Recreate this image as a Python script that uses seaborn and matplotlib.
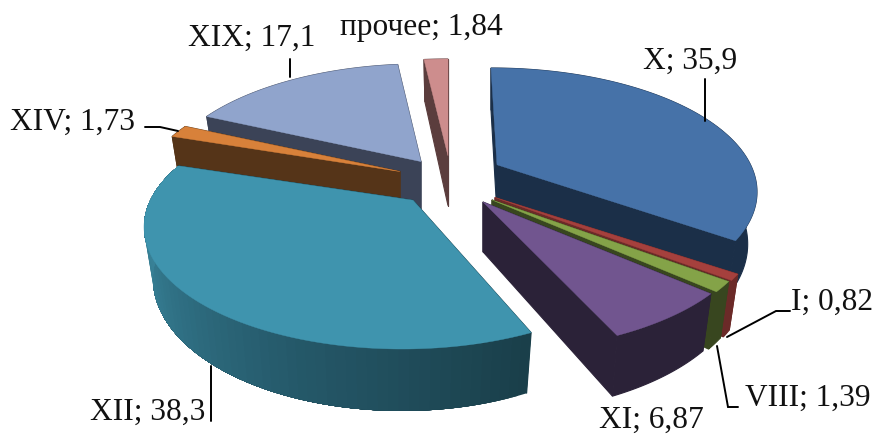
import numpy as np
import matplotlib
matplotlib.use("Agg")
import matplotlib.pyplot as plt
import seaborn as sns

# Shares by ICD class
categories = ["X", "I", "VIII", "XI", "XII", "XIV", "XIX", "прочее"]
shares = [35.9, 0.82, 1.39, 6.87, 38.3, 1.73, 17.1, 1.84]

# Colours of the upper faces and of the side walls
top_colors = ["#4672A8", "#A5403D", "#84A348", "#71558F",
              "#3F94AE", "#D8813A", "#90A4CC", "#CD8D8D"]
wall_colors = ["#1B2F48", "#6B2A28", "#38461F", "#2B2238",
               "#1A3F4A", "#553418", "#3B4357", "#5B3D3D"]

# Pixel-like placement of each exploded slice: ellipse centre, radii, apex shift
center_x = [491, 495, 492, 483, 402, 393, 421, 448]
center_y = [193, 226, 228, 230, 228, 200, 190, 184]
radius_x = [266, 264, 264, 268, 258, 255, 263, 270]
radius_y = [124, 125, 123, 123, 122, 125, 125, 124]
apex_shift = [6, 0, 0, 0, 11, 7, 0, 0]

# Back-to-front painting order
paint_order = [7, 6, 5, 4, 0, 1, 2, 3]

# Perspective squeeze of the circle, wall height and shrink of the lower rim
SQUEEZE = 0.8
DEPTH = 52
RIM_SHRINK_X = 0.965
RIM_GROW_Y = 10

sns.set_theme(style="white")
plt.rcParams["font.family"] = ["Liberation Serif", "DejaVu Serif"]

fig, ax = plt.subplots(figsize=(8.75, 4.35), dpi=100)
ax.set_position([0, 0, 1, 1])
ax.set_xlim(0, 875)
ax.set_ylim(435, 0)
ax.axis("off")


def warp(theta):
    """Clockwise-from-top angle (radians) after perspective foreshortening."""
    half = np.asarray(theta) / 2
    return 2 * np.arctan2(SQUEEZE * np.sin(half), np.cos(half))


def rim(i, theta, lower=False):
    t = warp(theta)
    rx, ry = radius_x[i], radius_y[i]
    dy = 0
    if lower:
        rx, ry, dy = rx * RIM_SHRINK_X, ry + RIM_GROW_Y, DEPTH
    return center_x[i] + rx * np.sin(t), center_y[i] + dy - ry * np.cos(t)


def apex(i, lower=False):
    lift = (1 - SQUEEZE ** 2) / (1 + SQUEEZE ** 2)
    ry, dy = (radius_y[i] + RIM_GROW_Y, DEPTH) if lower else (radius_y[i], 0)
    return center_x[i] + apex_shift[i], center_y[i] + dy - ry * lift


edges = np.radians(np.concatenate([[0], np.cumsum(shares)]) / np.sum(shares) * 360)
GRADIENT_SLICE = categories.index("XII")
rim_blend = sns.blend_palette(["#1A3F4A", "#25596A", "#347A8F", "#3F8CA3"], n_colors=70)

for order, i in enumerate(paint_order):
    z = 2 + order
    theta = np.linspace(edges[i], edges[i + 1], 140)
    tx, ty = rim(i, theta)
    bx, by = rim(i, theta, lower=True)
    ax_t, ay_t = apex(i)
    ax_b, ay_b = apex(i, lower=True)

    # Cut walls running from the apex to both ends of the arc
    for end in (0, -1):
        ax.fill([tx[end], ax_t, ax_b, bx[end]], [ty[end], ay_t, ay_b, by[end]],
                color=wall_colors[i], lw=0.8, zorder=z)

    # Outer rim, shaded along its length for the largest front slice.
    # Each band runs on to the far end, so neighbouring bands leave no seam.
    if i == GRADIENT_SLICE:
        starts = np.linspace(0, len(theta) - 2, len(rim_blend)).astype(int)
        for shade, s in zip(rim_blend, starts):
            ax.fill(np.r_[tx[s:], bx[s:][::-1]], np.r_[ty[s:], by[s:][::-1]],
                    facecolor=shade, lw=0, zorder=z)
    else:
        ax.fill(np.r_[tx, bx[::-1]], np.r_[ty, by[::-1]],
                color=wall_colors[i], lw=0.8, zorder=z)

    # Upper face
    ax.fill(np.r_[ax_t, tx], np.r_[ay_t, ty], color=top_colors[i], lw=0.3, zorder=z)

# Data labels with their anchor points
label_x = [690, 832, 808, 651, 148, 73, 252, 421]
label_y = [61, 302, 398, 420, 412, 122, 38, 27]
for name, value, x, y in zip(categories, shares, label_x, label_y):
    text = f"{name}; {value:g}".replace(".", ",")
    ax.text(x, y, text, ha="center", va="center", fontsize=22.6, color="#111111", zorder=20)

# Leader lines from the labels to their slices
leaders = [
    ([705, 705], [80, 122]),
    ([290, 290], [60, 78]),
    ([145, 160, 178], [128, 128, 132]),
    ([727, 776, 790], [338, 312, 312]),
    ([717, 728, 738], [347, 408, 408]),
    ([211, 211], [367, 422]),
]
for xs, ys in leaders:
    ax.plot(xs, ys, color="black", lw=1.4, zorder=15, solid_joinstyle="miter")

fig.savefig("out.png", dpi=100, facecolor="white")
